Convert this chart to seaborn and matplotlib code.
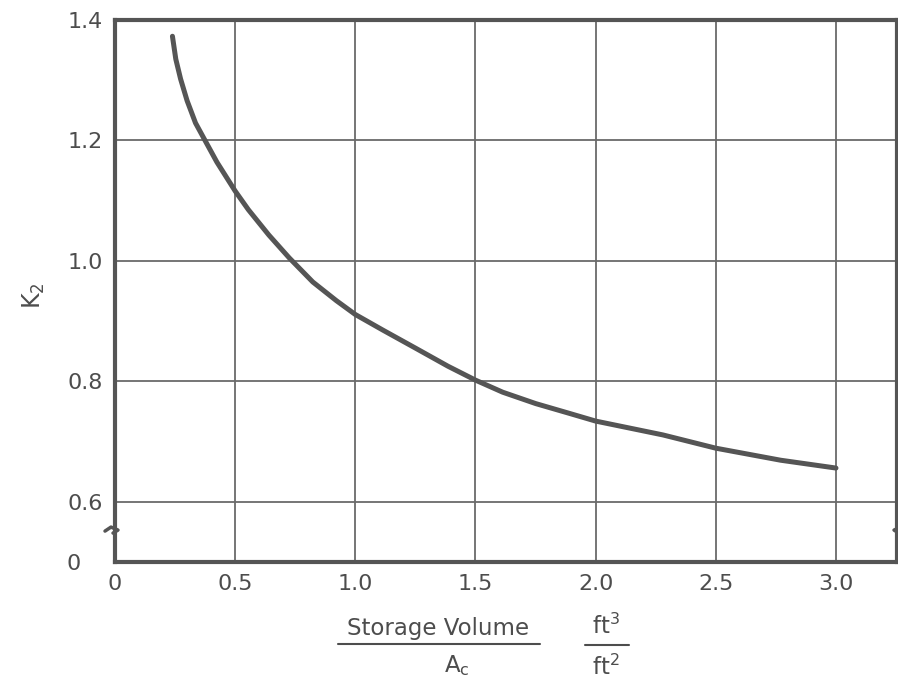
import matplotlib
matplotlib.use("Agg")
import matplotlib.pyplot as plt
import seaborn as sns
import pandas as pd
from matplotlib.lines import Line2D
from matplotlib.transforms import ScaledTranslation

# ---- data ----
storage_volume = [0.239, 0.253, 0.273, 0.300, 0.335, 0.376, 0.424, 0.500, 0.555,
                  0.640, 0.725, 0.823, 0.921, 1.000, 1.115, 1.251, 1.386, 1.500,
                  1.613, 1.751, 1.889, 2.000, 2.280, 2.500, 2.770, 3.000]
k2_values = [1.373, 1.335, 1.302, 1.266, 1.229, 1.199, 1.164, 1.116, 1.085,
             1.043, 1.005, 0.965, 0.934, 0.911, 0.885, 0.855, 0.825, 0.802,
             0.782, 0.763, 0.747, 0.734, 0.711, 0.689, 0.669, 0.656]
x_ticks = [0, 0.5, 1.0, 1.5, 2.0, 2.5, 3.0]
x_tick_labels = ["0", "0.5", "1.0", "1.5", "2.0", "2.5", "3.0"]
y_ticks = [0.5, 0.6, 0.8, 1.0, 1.2, 1.4]
y_tick_labels = ["0", "0.6", "0.8", "1.0", "1.2", "1.4"]

df = pd.DataFrame({"x": storage_volume, "k2": k2_values})

sns.set_theme(style="white")
plt.rcParams["font.family"] = ["DejaVu Sans"]
ink = "#4d4d4d"

fig = plt.figure(figsize=(8.98, 6.84), dpi=100)
ax = fig.add_axes([115/898, 1-562/684, (897-115)/898, (562-20)/684])

sns.lineplot(data=df, x="x", y="k2", ax=ax, color="#555555", linewidth=3.6,
             solid_capstyle="round", solid_joinstyle="round")

ax.set_xlim(0, 3.254)
ax.set_ylim(0.5, 1.4)
ax.set_xticks(x_ticks)
ax.set_xticklabels(x_tick_labels)
ax.set_yticks(y_ticks)
ax.set_yticklabels(y_tick_labels)
ax.tick_params(axis="both", length=0, labelsize=16, labelcolor=ink)
ax.tick_params(axis="x", pad=9)
ax.tick_params(axis="y", pad=9)
# move the bottom "0" label a bit to the left, as in the reference
zero_lbl = ax.get_yticklabels()[0]
zero_lbl.set_transform(zero_lbl.get_transform() +
                       ScaledTranslation(-0.22, 0, fig.dpi_scale_trans))
ax.grid(True, color="#6a6a6a", linewidth=1.3)
ax.set_xlabel("")
ax.set_ylabel("")
for s in ax.spines.values():
    s.set_visible(True)
    s.set_color("#555555")
    s.set_linewidth(3)

# break marks on left and right edges
yb = 0.553
for xe, sgn in [(0.0, 1), (3.254, -1)]:
    pts_x = [-10, -4, 3, -2]
    pts_y = [-1, 3, 0, -3]
    xs = [xe + sgn * px / 240.5 for px in pts_x]
    ys = [yb + py / 602.0 for py in pts_y]
    ax.add_line(Line2D(xs, ys, color="#555555", linewidth=2.5, clip_on=False,
                       solid_capstyle="round"))

# axis labels
fig.text(34/898, 1-296/684, "K$_\\mathregular{2}$", rotation=90, ha="center",
         va="center", fontsize=17, color=ink)
fig.text(438/898, 1-628/684, "Storage Volume", ha="center", va="center",
         fontsize=16.5, color=ink)
fig.add_artist(Line2D([338/898, 540/898], [1-644/684, 1-644/684],
                      color=ink, linewidth=1.5))
fig.text(457/898, 1-666/684, "A$_\\mathregular{c}$", ha="center", va="center",
         fontsize=16.5, color=ink)
fig.text(606/898, 1-626/684, "ft$^\\mathregular{3}$", ha="center", va="center",
         fontsize=16.5, color=ink)
fig.add_artist(Line2D([585/898, 629/898], [1-645/684, 1-645/684],
                      color=ink, linewidth=1.5))
fig.text(606/898, 1-667/684, "ft$^\\mathregular{2}$", ha="center", va="center",
         fontsize=16.5, color=ink)

fig.savefig("out.png", dpi=100)
